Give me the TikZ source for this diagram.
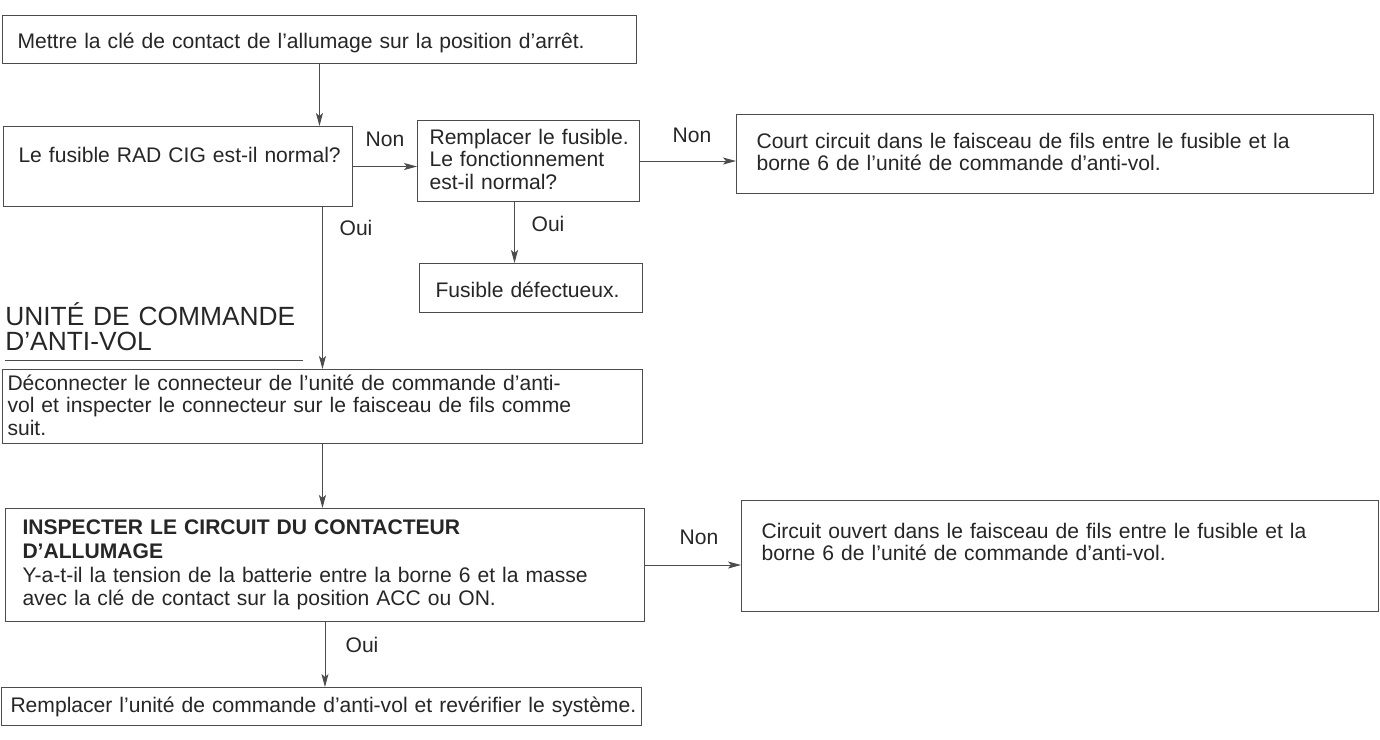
\documentclass[tikz,border=0pt]{standalone}
\usepackage{fontspec}
\setmainfont{Liberation Sans}
\usetikzlibrary{arrows.meta}

\tikzset{
	box/.style = {draw = black!70, line width = 0.6pt, anchor = north west, inner ysep = 0pt, inner xsep = 0.3cm,
		align = left, text = black!85, font = \fontsize{12}{12.75}\selectfont},
	arrow/.style = {draw = black!70, line width = 0.5pt, -{Stealth[length = 0.26cm, width = 0.14cm, inset = 0.06cm]}},
	answer/.style = {inner sep = 0pt, text = black!85, font = \fontsize{12}{12.75}\selectfont},
	rule/.style = {draw = black!70, line width = 0.5pt},
}

\begin{document}
\begin{tikzpicture}[x = 0.02cm, y = -0.02cm]
	\useasboundingbox (0, 0) rectangle (1380, 740);
	% fuse check
	\node[box, text width = 12.08cm, text height = 0.66cm, text depth = 0.3cm] (start) at (2, 15)
		{Mettre la clé de contact de l’allumage sur la position d’arrêt.};
	\node[box, text width = 6.38cm, text height = 0.72cm, text depth = 0.88cm] (fuse) at (3, 126)
		{\mbox{Le fusible RAD CIG est-il normal?}};
	\node[box, inner xsep = 0.24cm, text width = 3.96cm, text height = 0.48cm, text depth = 1.14cm] (swap) at (417, 120)
		{\mbox{Remplacer le fusible.}\\\mbox{Le fonctionnement}\\\mbox{est-il normal?}};
	\node[box, inner xsep = 0.4cm, text width = 11.94cm, text height = 0.68cm, text depth = 0.9cm] (short) at (736, 114)
		{\makebox[11.1cm][s]{Court circuit dans le faisceau de fils entre le fusible et la}\\borne 6 de l’unité de commande d’anti-vol.};
	\node[box, inner xsep = 0.32cm, text width = 3.82cm, text height = 0.68cm, text depth = 0.3cm] (blown) at (419, 263)
		{\mbox{Fusible défectueux.}};
	% section title
	\node[anchor = base west, inner sep = 0pt, text width = 5.94cm, align = left, text depth = 0.7cm,
		text = black!85, font = \fontsize{15}{14.5}\selectfont] (head) at (5, 325)
		{UNITÉ DE COMMANDE\\D’ANTI-VOL};
	\draw[rule] (head.south west) -- (head.south east);
	% steering lock unit
	\node[box, inner xsep = 0.1cm, text width = 12.6cm, text height = 0.42cm, text depth = 1.06cm] (unplug) at (2, 369)
		{Déconnecter le connecteur de l’unité de commande d’anti-\\vol et inspecter le connecteur sur le faisceau de fils comme\\suit.};
	\node[box, inner xsep = 0.34cm, text width = 12.1cm, text height = 0.52cm, text depth = 1.74cm] (check) at (5, 508)
		{\textbf{INSPECTER LE CIRCUIT DU CONTACTEUR}\\[1pt]\textbf{D’ALLUMAGE}\\[1pt]Y-a-t-il la tension de la batterie entre la borne 6 et la masse\\avec la clé de contact sur la position ACC ou ON.};
	\node[box, inner xsep = 0.4cm, text width = 11.94cm, text height = 0.76cm, text depth = 1.46cm] (open) at (741, 500)
		{\makebox[11.12cm][s]{Circuit ouvert dans le faisceau de fils entre le fusible et la}\\borne 6 de l’unité de commande d’anti-vol.};
	\node[box, inner xsep = 0.18cm, text width = 12.44cm, text height = 0.5cm, text depth = 0.26cm] (swapunit) at (1, 687)
		{\mbox{Remplacer l’unité de commande d’anti-vol et revérifier le système.}};
	% answers
	\node[answer] (nonA) at (385, 139) {Non};
	\node[answer] (nonB) at (692, 135) {Non};
	\node[answer] (ouiA) at (356, 228) {Oui};
	\node[answer] (ouiB) at (548, 224) {Oui};
	\node[answer] (nonC) at (699, 537) {Non};
	\node[answer] (ouiC) at (362, 645) {Oui};
	% arrows
	\draw[arrow] (start.south) -- (start.south |- fuse.north);
	\draw[arrow] (fuse.east) -- (fuse.east -| swap.west);
	\draw[arrow] (swap.east) -- (swap.east -| short.west);
	\draw[arrow] ([xshift = -0.28cm]swap.south) -- ([xshift = -0.28cm]swap.south |- blown.north);
	\draw[arrow] (unplug.north |- fuse.south) -- (unplug.north);
	\draw[arrow] (unplug.south) -- (unplug.south |- check.north);
	\draw[arrow] (check.east) -- (check.east -| open.west);
	\draw[arrow] (check.south) -- (check.south |- swapunit.north);
\end{tikzpicture}
\end{document}
